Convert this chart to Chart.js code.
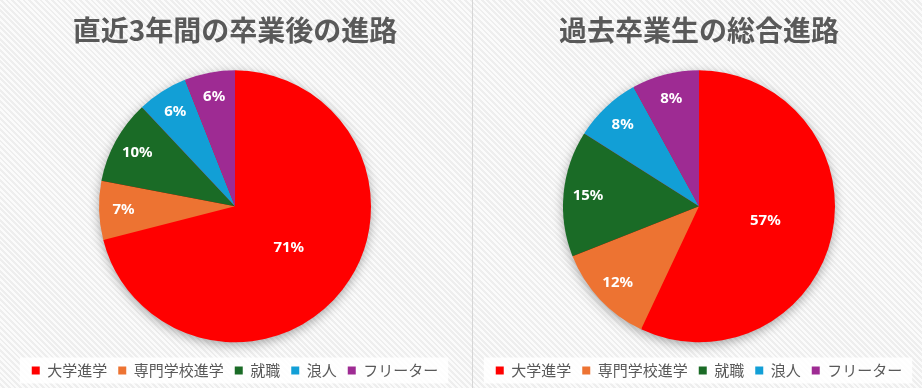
<!DOCTYPE html>
<html>
<head>
<meta charset="utf-8">
<script src="https://cdn.jsdelivr.net/npm/chart.js@4.4.0/dist/chart.umd.min.js"></script>
<style>
  html, body { margin:0; padding:0; }
  body {
    width:922px; height:388px; overflow:hidden; position:relative;
    background: repeating-linear-gradient(45deg, #fbfbfb 0px, #fbfbfb 2px, #eeeeee 2px, #eeeeee 4px);
  }
  .panel { position:absolute; top:0; height:388px; }
  #divider { position:absolute; left:472px; top:0; width:1px; height:388px; background:#d6d6d6; }
</style>
</head>
<body>
<div class="panel" id="p1" style="left:0px;width:470px;"><canvas id="c1"></canvas></div>
<div id="divider"></div>
<div class="panel" id="p2" style="left:476px;width:446px;"><canvas id="c2"></canvas></div>
<script>
// ---- data ----
const categories = ['大学進学', '専門学校進学', '就職', '浪人', 'フリーター'];
const recentValues = [71, 7, 10, 6, 6];      // 直近3年間 (%)
const totalValues  = [57, 12, 15, 8, 8];     // 過去卒業生 (%)
const titles = ['直近3年間の卒業後の進路', '過去卒業生の総合進路'];
const colors = ['#ff0000', '#ed7332', '#1a6b26', '#129fd6', '#9e2b93'];

const FONT = "'Noto Sans CJK JP', 'Noto Sans', sans-serif";

// soft shadow under the pie
const shadowPlugin = {
  id: 'pieShadow',
  beforeDatasetsDraw(chart) {
    const meta = chart.getDatasetMeta(0);
    if (!meta.data.length) return;
    const a = meta.data[0];
    const ctx = chart.ctx;
    ctx.save();
    ctx.shadowColor = 'rgba(0,0,0,0.38)';
    ctx.shadowBlur = 12;
    ctx.shadowOffsetY = 3;
    ctx.fillStyle = '#ff0000';
    ctx.beginPath();
    ctx.arc(a.x, a.y, a.outerRadius - 1, 0, Math.PI * 2);
    ctx.fill();
    ctx.restore();
  }
};

// white backdrop behind legend
const legendBgPlugin = {
  id: 'legendBg',
  beforeDraw(chart) {
    const lg = chart.legend;
    if (!lg || !lg.legendHitBoxes || !lg.legendHitBoxes.length) return;
    const hb = lg.legendHitBoxes;
    const minX = Math.min(...hb.map(h => h.left));
    const maxX = Math.max(...hb.map(h => h.left + h.width));
    const cy = hb[0].top + hb[0].height / 2;
    const ctx = chart.ctx;
    ctx.save();
    ctx.fillStyle = 'rgba(255,255,255,0.85)';
    ctx.fillRect(minX - 12, cy - 13, (maxX - minX) + 22, 26);
    ctx.restore();
  }
};

// percentage labels inside slices
const labelPlugin = {
  id: 'sliceLabels',
  afterDatasetsDraw(chart) {
    const ctx = chart.ctx;
    const ds = chart.data.datasets[0];
    const meta = chart.getDatasetMeta(0);
    const total = ds.data.reduce((s, v) => s + v, 0);
    ctx.save();
    ctx.fillStyle = '#ffffff';
    ctx.font = "bold 15px 'Noto Sans', 'DejaVu Sans', sans-serif";
    ctx.textAlign = 'center';
    ctx.textBaseline = 'middle';
    meta.data.forEach((arc, i) => {
      const p = arc.getProps(['x', 'y', 'startAngle', 'endAngle', 'outerRadius'], true);
      const frac = ds.data[i] / total;
      const mid = (p.startAngle + p.endAngle) / 2;
      const r = p.outerRadius * (frac > 0.5 ? 0.5 : 0.82);
      const x = p.x + Math.cos(mid) * r;
      const y = p.y + Math.sin(mid) * r;
      ctx.fillText(Math.round(frac * 100) + '%', x, y);
    });
    ctx.restore();
  }
};

function makeChart(id, title, values) {
  return new Chart(document.getElementById(id), {
    type: 'pie',
    data: {
      labels: categories,
      datasets: [{
        data: values,
        backgroundColor: colors,
        borderWidth: 0,
        radius: 136
      }]
    },
    options: {
      responsive: true,
      maintainAspectRatio: false,
      animation: false,
      layout: { padding: 0 },
      plugins: {
        title: {
          display: true,
          text: title,
          color: '#595959',
          font: { family: FONT, size: 28, weight: 'bold' },
          padding: { top: 14, bottom: 13 }
        },
        legend: {
          position: 'bottom',
          labels: {
            boxWidth: 8,
            boxHeight: 8,
            padding: 11,
            color: '#595959',
            font: { family: FONT, size: 15 }
          }
        },
        tooltip: { enabled: false }
      }
    },
    plugins: [legendBgPlugin, shadowPlugin, labelPlugin]
  });
}

makeChart('c1', titles[0], recentValues);
makeChart('c2', titles[1], totalValues);
</script>
</body>
</html>
